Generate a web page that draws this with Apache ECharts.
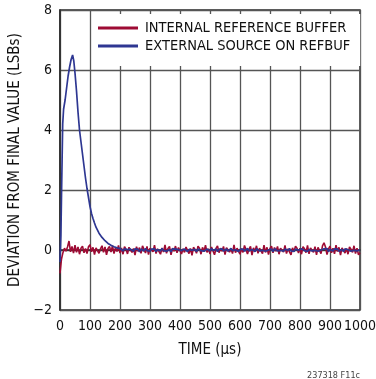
<!DOCTYPE html>
<html><head><meta charset="utf-8">
<script src="https://cdn.jsdelivr.net/npm/echarts@6/dist/echarts.min.js"></script>
<style>html,body{margin:0;padding:0;background:#fff}#c{width:376px;height:379px}</style>
</head><body><div id="c"></div>
<script>
const seriesNames = ['INTERNAL REFERENCE BUFFER', 'EXTERNAL SOURCE ON REFBUF'];
const xTickValues = [0,100,200,300,400,500,600,700,800,900,1000];
const yTickValues = [-2,0,2,4,6,8];
const sampleStep = 5; // µs between noise samples
const redValues = [-0.78,-0.30,-0.08,0.06,-0.04,0.10,0.30,-0.06,0.12,-0.10,
0.16,-0.08,0.10,-0.14,0.06,0.13,-0.09,0.05,-0.12,0.11,
0.18,-0.06,0.09,-0.15,0.07,0.12,-0.11,0.04,0.14,-0.08,
0.10,-0.16,0.05,0.12,-0.07,0.14,-0.12,0.08,-0.05,0.15,
-0.10,0.07,-0.14,0.11,0.03,-0.13,0.09,0.15,-0.08,0.05,
-0.17,0.11,-0.04,0.08,-0.11,0.14,0.02,-0.10,0.12,-0.15,
0.06,0.10,-0.06,0.16,-0.12,0.04,0.09,-0.14,0.07,-0.07,
0.17,-0.11,0.05,0.12,-0.16,0.06,-0.04,0.13,-0.09,0.08,
0.14,-0.13,0.04,-0.08,0.10,0.15,-0.12,0.05,-0.18,0.09,
0.02,-0.11,0.13,0.06,-0.14,0.09,-0.05,0.16,-0.08,0.04,
-0.13,0.10,0.07,-0.16,0.05,0.14,-0.09,0.06,-0.04,0.12,
-0.15,0.08,0.13,-0.07,0.04,-0.12,0.17,-0.09,0.06,0.10,
-0.14,0.05,-0.08,0.15,0.09,-0.13,0.03,0.12,-0.17,0.07,
-0.05,0.14,-0.11,0.06,0.02,-0.12,0.16,-0.08,0.09,-0.15,
0.05,0.13,-0.09,0.08,-0.04,0.12,-0.14,0.06,0.10,-0.07,
0.15,-0.12,0.04,0.09,-0.16,0.07,-0.05,0.13,0.06,-0.10,
0.06,-0.14,0.11,0.04,-0.09,0.15,-0.13,0.07,0.03,-0.08,
0.11,-0.16,0.09,0.05,-0.12,0.14,0.24,0.10,-0.15,0.04,
0.13,-0.09,0.06,-0.13,0.16,-0.05,0.09,-0.17,0.07,0.11,
-0.10,0.05,-0.14,0.10,0.03,-0.08,0.14,-0.12,0.06,-0.16,
-0.09];
const blueEarlyTimes = [0,3,5,7,9,12,17,22,27,32,37,42,46,50,55,60,65,70,75,80,85,90,95,100,105,110,115,120,125,130,135,140,145,150,155,160,165,170,175,180,185,190,195];
const blueEarlyValues = [-0.4,0.5,1.8,3.0,4.2,4.7,5.0,5.4,5.8,6.1,6.35,6.5,6.3,5.9,5.3,4.6,4.0,3.6,3.2,2.8,2.4,2.05,1.75,1.45,1.22,1.05,0.9,0.76,0.66,0.56,0.5,0.42,0.37,0.31,0.27,0.22,0.2,0.16,0.14,0.11,0.1,0.07,0.06];
const blueTailStart = 200;
const blueTailValues = [0.05,0.02,-0.03,0.04,-0.02,0.01,-0.05,0.03,0.00,-0.04,
0.04,-0.01,0.02,-0.06,0.03,0.01,-0.03,0.05,-0.02,0.00,
-0.04,0.03,-0.01,0.04,-0.05,0.02,0.01,-0.03,0.05,-0.02,
0.03,-0.04,0.00,0.02,-0.06,0.04,-0.01,0.03,-0.03,0.01,
0.05,-0.02,-0.04,0.03,0.00,-0.05,0.02,0.04,-0.01,-0.03,
0.02,-0.05,0.03,0.01,-0.02,0.04,-0.04,0.00,0.03,-0.01,
-0.03,0.05,-0.02,0.01,0.03,-0.05,0.02,-0.01,0.04,-0.03,
0.00,0.03,-0.04,0.02,0.05,-0.02,-0.03,0.01,0.04,-0.05,
0.02,-0.01,0.03,-0.04,0.01,0.05,-0.03,0.00,0.02,-0.02,
-0.05,0.04,0.01,-0.03,0.03,-0.01,0.05,-0.04,0.02,0.00,
-0.02,0.03,-0.05,0.04,0.01,-0.03,0.02,-0.01,0.04,-0.04,
0.03,0.00,-0.02,0.05,-0.03,0.01,-0.05,0.03,0.02,-0.01,
-0.04,0.04,0.00,-0.02,0.03,-0.05,0.02,0.05,-0.03,0.01,
-0.01,0.03,-0.04,0.02,0.00,-0.03,0.04,-0.02,0.05,-0.05,
0.02,0.01,-0.03,0.04,-0.01,0.03,-0.04,0.00,0.02,-0.05,
0.04,-0.02,0.01,0.03,-0.04,0.02,-0.01,0.05,-0.03,0.00,
0.01];

const redData = redValues.map((v, i) => [i * sampleStep, v]);
const blueData = blueEarlyTimes.map((t, i) => [t, blueEarlyValues[i]])
  .concat(blueTailValues.map((v, i) => [blueTailStart + i * sampleStep, v]));

const FONT = "'DejaVu Sans Condensed','DejaVu Sans',sans-serif";
const chart = echarts.init(document.getElementById('c'), null, {renderer: 'canvas'});
chart.setOption({
  animation: false,
  backgroundColor: '#fff',
  grid: {left: 60, right: 16, top: 10, bottom: 69, outerBoundsMode: 'none', containLabel: false,
    show: true, borderColor: '#2a2a2a', borderWidth: 1.5, backgroundColor: 'transparent'},
  legend: {
    data: seriesNames,
    orient: 'vertical', left: 92, top: 14,
    padding: [5, 10, 11, 6],
    backgroundColor: '#fff',
    itemGap: 0, itemWidth: 40, itemHeight: 3, icon: 'rect',
    textStyle: {fontFamily: FONT, fontSize: 14.5, color: '#111', lineHeight: 18, padding: [0,0,0,2]}
  },
  xAxis: {
    type: 'value', min: 0, max: 1000, interval: 100,
    name: 'TIME (µs)', nameLocation: 'middle', nameGap: 33,
    nameTextStyle: {fontFamily: FONT, fontSize: 15, color: '#111'},
    axisLine: {show: true, lineStyle: {color: '#2a2a2a', width: 1.5}},
    axisTick: {show: false},
    axisLabel: {fontFamily: FONT, fontSize: 14, color: '#111', margin: 9, showMaxLabel: true, hideOverlap: false,
      formatter: v => xTickValues.includes(v) ? String(v) : ''},
    splitLine: {show: true, lineStyle: {color: '#555', width: 1.3}}
  },
  yAxis: {
    type: 'value', min: -2, max: 8, interval: 2,
    name: 'DEVIATION FROM FINAL VALUE (LSBs)', nameLocation: 'middle', nameGap: 37, nameRotate: 90,
    nameTextStyle: {fontFamily: FONT, fontSize: 15, color: '#111'},
    axisLine: {show: true, lineStyle: {color: '#2a2a2a', width: 1.5}},
    axisTick: {show: false},
    axisLabel: {fontFamily: FONT, fontSize: 14, color: '#111', margin: 8, formatter: v => yTickValues.includes(v) ? String(v).replace('-', '\u2212') : ''},
    splitLine: {show: true, lineStyle: {color: '#555', width: 1.3}}
  },
  graphic: [{
    type: 'text', right: 16, top: 371, z: 10,
    style: {text: '237318 F11c', fontFamily: FONT, fontSize: 9, fill: '#444'}
  }],
  series: [
    {name: seriesNames[0], type: 'line', data: redData, symbol: 'none', color: '#9e0b34', lineStyle: {width: 1.6, color: '#9e0b34'}, z: 3},
    {name: seriesNames[1], type: 'line', data: blueData, symbol: 'none', color: '#2e3792', lineStyle: {width: 1.7, color: '#2e3792'}, z: 4}
  ]
});
</script></body></html>
